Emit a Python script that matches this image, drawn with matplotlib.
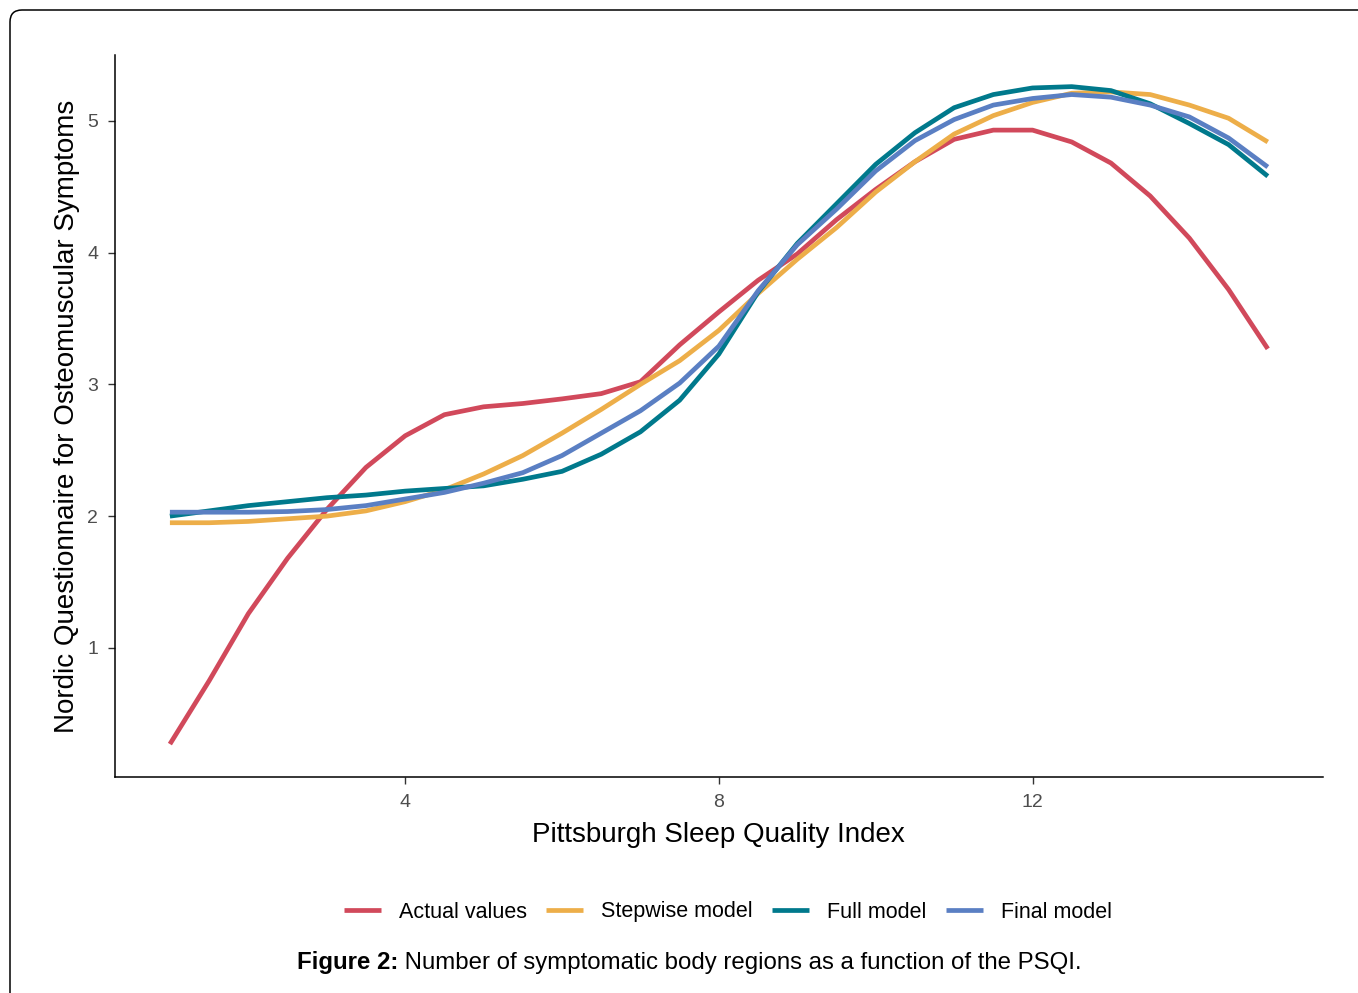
import matplotlib
matplotlib.use("Agg")
import matplotlib.pyplot as plt
from matplotlib.patches import FancyBboxPatch

plt.rcParams['font.family'] = ['Liberation Sans', 'DejaVu Sans']

# PSQI values (x) and the four smoothed curves
psqi = [1, 1.5, 2, 2.5, 3, 3.5, 4, 4.5, 5, 5.5, 6, 6.5, 7, 7.5, 8,
        8.5, 9, 9.5, 10, 10.5, 11, 11.5, 12, 12.5, 13, 13.5, 14, 14.5, 15]
actual = [0.27, 0.75, 1.26, 1.68, 2.05, 2.37, 2.61, 2.77, 2.83, 2.855, 2.89, 2.93, 3.02, 3.30, 3.55,
          3.79, 3.99, 4.25, 4.48, 4.69, 4.86, 4.93, 4.93, 4.84, 4.68, 4.43, 4.11, 3.72, 3.27]
stepwise = [1.95, 1.95, 1.96, 1.98, 2.00, 2.04, 2.11, 2.20, 2.32, 2.46, 2.63, 2.81, 3.00, 3.18, 3.41,
            3.69, 3.95, 4.19, 4.46, 4.69, 4.90, 5.04, 5.14, 5.21, 5.22, 5.20, 5.12, 5.02, 4.84]
full = [2.00, 2.04, 2.08, 2.11, 2.14, 2.16, 2.19, 2.21, 2.23, 2.28, 2.34, 2.47, 2.64, 2.88, 3.23,
        3.70, 4.07, 4.37, 4.67, 4.91, 5.10, 5.20, 5.25, 5.26, 5.23, 5.13, 4.98, 4.82, 4.58]
final = [2.03, 2.03, 2.03, 2.035, 2.05, 2.08, 2.13, 2.18, 2.25, 2.33, 2.46, 2.63, 2.80, 3.01, 3.29,
         3.71, 4.06, 4.33, 4.62, 4.85, 5.01, 5.12, 5.17, 5.20, 5.18, 5.12, 5.03, 4.87, 4.65]

labels = ['Actual values', 'Stepwise model', 'Full model', 'Final model']
colors = ['#d1495b', '#edae49', '#00798c', '#5a7fc3']

fig = plt.figure(figsize=(13.58, 9.93), dpi=100)
ax = fig.add_axes([0.0847, 0.2175, 0.8893, 0.7271])

for ys, lab, c in zip([actual, stepwise, full, final], labels, colors):
    ax.plot(psqi, ys, color=c, lw=3.4, label=lab, solid_capstyle='butt', solid_joinstyle='round')

ax.set_xlim(0.3, 15.7)
ax.set_ylim(0.02, 5.5)
ax.set_xticks([4, 8, 12])
ax.set_yticks([1, 2, 3, 4, 5])
ax.tick_params(labelsize=14, labelcolor='#4d4d4d', color='#333333', length=5, width=1, pad=7)
for s in ['top', 'right']:
    ax.spines[s].set_visible(False)
for s in ['left', 'bottom']:
    ax.spines[s].set_linewidth(1.1)
ax.set_xlabel('Pittsburgh Sleep Quality Index', fontsize=20, labelpad=8)
ax.set_ylabel('Nordic Questionnaire for Osteomuscular Symptoms', fontsize=20, labelpad=5)

fig.legend(loc='center', bbox_to_anchor=(728 / 1358, 1 - 912 / 993), ncol=4, frameon=False,
           fontsize=15.5, handlelength=1.7, columnspacing=0.9, handletextpad=0.85)

# caption
t1 = fig.text(297 / 1358, 1 - 963 / 993, 'Figure 2:', fontsize=17.3, fontweight='bold', va='center')
ax.annotate(' Number of symptomatic body regions as a function of the PSQI.', xy=(1, 0.5),
            xycoords=t1, va='center', fontsize=17.3, annotation_clip=False)

# outer frame
frame = FancyBboxPatch((0.1, -0.5), 14.0, 9.83 + 0.5, boxstyle='round,pad=0,rounding_size=0.12',
                       transform=fig.dpi_scale_trans, fill=False, lw=1.1, ec='black')
fig.patches.append(frame)

fig.savefig('out.png', dpi=100)
